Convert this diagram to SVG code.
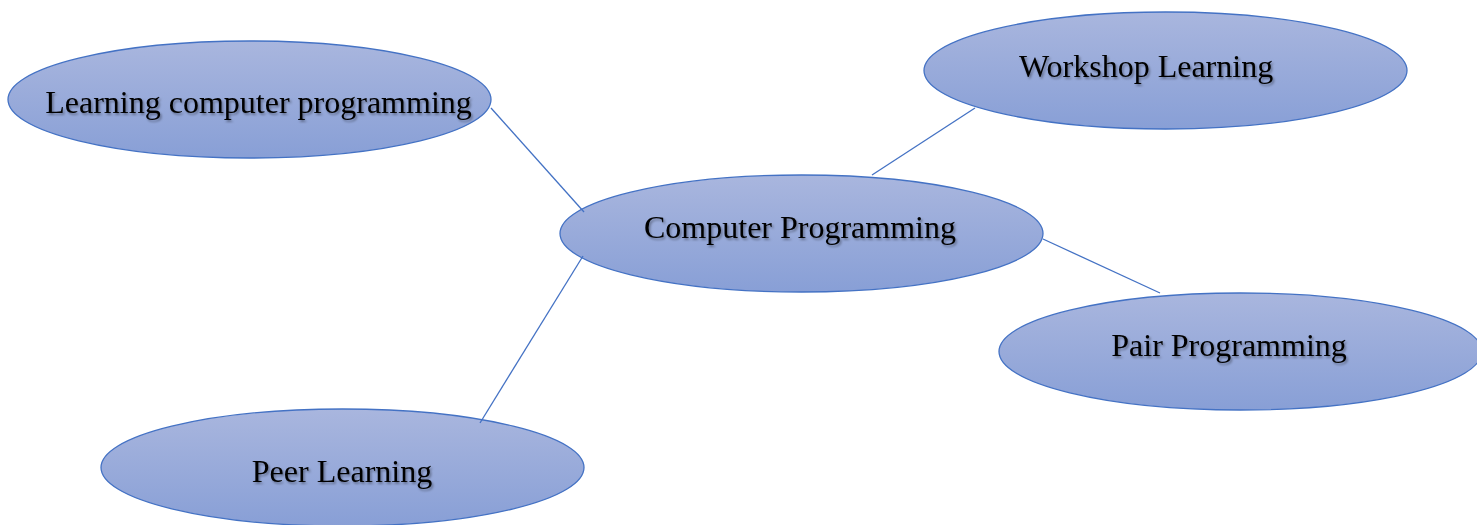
<svg xmlns="http://www.w3.org/2000/svg" width="1477" height="525" viewBox="0 0 1477 525">
<defs>
<linearGradient id="g" x1="0" y1="0" x2="0" y2="1">
<stop offset="0" stop-color="#a9b6de"/>
<stop offset="1" stop-color="#889fd6"/>
</linearGradient>
<filter id="sh" x="-5%" y="-20%" width="110%" height="150%">
<feDropShadow dx="1.5" dy="2" stdDeviation="1.2" flood-color="#000" flood-opacity="0.35"/>
</filter>
</defs>
<style>
.n ellipse{fill:url(#g);stroke:#4472c4;stroke-width:1.3}
.n text{font-family:"Liberation Serif","Times New Roman",serif;font-size:32px;fill:#000;text-anchor:middle;filter:url(#sh)}
.c line{stroke:#4472c4;stroke-width:1.3}
</style>
<rect width="1477" height="525" fill="#fff"/>
<g id="n1" class="n"><ellipse cx="249.5" cy="99.5" rx="241.5" ry="58.5"/><text x="258.5" y="113">Learning computer programming</text></g>
<g id="n2" class="n"><ellipse cx="1165.5" cy="70.5" rx="241.5" ry="58.5"/><text x="1146" y="77">Workshop Learning</text></g>
<g id="n3" class="n"><ellipse cx="801.5" cy="233.5" rx="241.5" ry="58.5"/><text x="800" y="238">Computer Programming</text></g>
<g id="n4" class="n"><ellipse cx="1240.5" cy="351.5" rx="241.5" ry="58.5"/><text x="1229" y="356">Pair Programming</text></g>
<g id="n5" class="n"><ellipse cx="342.5" cy="467.5" rx="241.5" ry="58.5"/><text x="342" y="482">Peer Learning</text></g>
<g id="connectors" class="c">
<line x1="491" y1="108" x2="584" y2="212"/>
<line x1="872" y1="175" x2="975" y2="108"/>
<line x1="1043" y1="239" x2="1160" y2="293"/>
<line x1="583" y1="256" x2="480" y2="423"/>
</g>
</svg>
